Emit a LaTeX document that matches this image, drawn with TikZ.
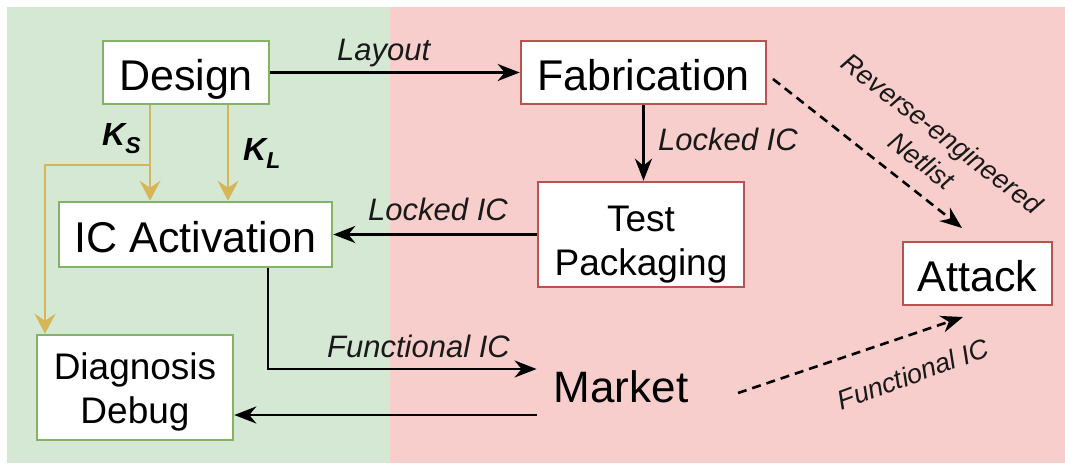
\documentclass[tikz,border=0pt]{standalone}
\usepackage{fontspec}
\setmainfont{Liberation Sans}
\usetikzlibrary{arrows.meta}
\definecolor{gfill}{HTML}{D5E8D4}
\definecolor{gline}{HTML}{82B366}
\definecolor{rfill}{HTML}{F8CECC}
\definecolor{rline}{HTML}{B85450}
\definecolor{yline}{HTML}{D6B656}
\tikzset{
  box/.style={draw, fill=white, line width=2.6pt, inner sep=0pt, align=center},
  gbox/.style={box, draw=gline},
  rbox/.style={box, draw=rline},
  big/.style={font=\fontsize{43}{52}\selectfont, text height=35pt, text depth=0pt},
  two/.style={font=\fontsize{37}{44}\selectfont},
  lbl/.style={font=\fontsize{31}{37}\selectfont\itshape, inner sep=0pt, text=black!90},
  slbl/.style={font=\fontsize{27}{34}\selectfont\itshape, inner sep=0pt, align=center, text=black!90},
  klbl/.style={font=\fontsize{32}{38}\selectfont\bfseries\itshape, inner sep=0pt},
  arr/.style={line width=2.6pt, -{Stealth[length=22pt,width=17pt,inset=7pt]}},
  yarr/.style={line width=2.6pt, draw=yline, -{Stealth[length=20pt,width=21pt,inset=7pt]}},
  darr/.style={arr, dash pattern=on 9pt off 6pt},
}
\begin{document}
\begin{tikzpicture}[x=1pt,y=-1pt]
\useasboundingbox (0,0) rectangle (1065,463);
\fill[white] (0,0) rectangle (1065,463);
\fill[gfill] (7,7) rectangle (390,463);
\fill[rfill] (390,7) rectangle (1065,463);

% nodes
\node[gbox, big, minimum width=166pt, minimum height=63pt] (design) at (186,72.5) {Design};
\node[rbox, big, minimum width=245pt, minimum height=63pt] (fab) at (643.5,72.5) {Fabrication};
\node[gbox, big, minimum width=273pt, minimum height=65pt] (icact) at (195.5,234.5) {IC Activation};
\node[rbox, two, minimum width=206pt, minimum height=105pt, text height=89pt, text depth=8pt] (test) at (641,234.5) {Test\\Packaging};
\node[gbox, two, minimum width=196pt, minimum height=105pt, text height=80.5pt, text depth=8pt] (diag) at (135,387.5) {Diagnosis\\Debug};
\node[rbox, big, minimum width=149pt, minimum height=63pt] (attack) at (977.5,273.5) {Attack};
\node[font=\fontsize{44}{52}\selectfont, inner xsep=17pt, inner ysep=0pt] (market) at (621,387) {Market};

% helper coordinates
\coordinate (ks) at (150,165);
\coordinate (kl) at (228,165);
\coordinate (kd) at (45,165);
\coordinate (fu) at (268,369);
\coordinate (md) at (0,415);
\coordinate (fs) at (773,79);
\coordinate (fe) at (962,228);
\coordinate (ms) at (738,393);
\coordinate (me) at (963,317);

% connectors
\draw[arr] (design.east) -- (fab.west);
\node[lbl, anchor=base west] (lay) at (337,60) {Layout};

\draw[arr] (fab.south) -- (fab.south |- test.north);
\node[lbl, anchor=base west] (lic1) at (658,150) {Locked IC};

\draw[arr] (test.west) -- (icact.east);
\node[lbl, anchor=base east] (lic2) at (508,220) {Locked IC};

\draw[arr] (fu |- icact.south) -- (fu) -- (market.west |- fu);
\node[lbl, anchor=base west] (fic) at (327,357) {Functional IC};

\draw[arr] (market.west |- md) -- (diag.east |- md);

\draw[darr] (fs) -- (fe);
\node[slbl, rotate=-37.4] (rev) at (932,147) {Reverse-engineered\\Netlist};

\draw[darr] (ms) -- (me);
\node[slbl, rotate=20] (fic2) at (913,374) {Functional IC};

% keys
\draw[yarr] (ks |- design.south) -- (ks |- icact.north);
\draw[yarr] (kl |- design.south) -- (kl |- icact.north);
\draw[yarr, line join=miter] (ks) -- (kd) -- (kd |- diag.north);
\node[klbl, anchor=base west] (kslbl) at (102,145) {K\raisebox{-8pt}{\fontsize{23}{26}\selectfont S}};
\node[klbl, anchor=base west] (kllbl) at (243,160) {K\raisebox{-8pt}{\fontsize{23}{26}\selectfont L}};
\end{tikzpicture}
\end{document}
